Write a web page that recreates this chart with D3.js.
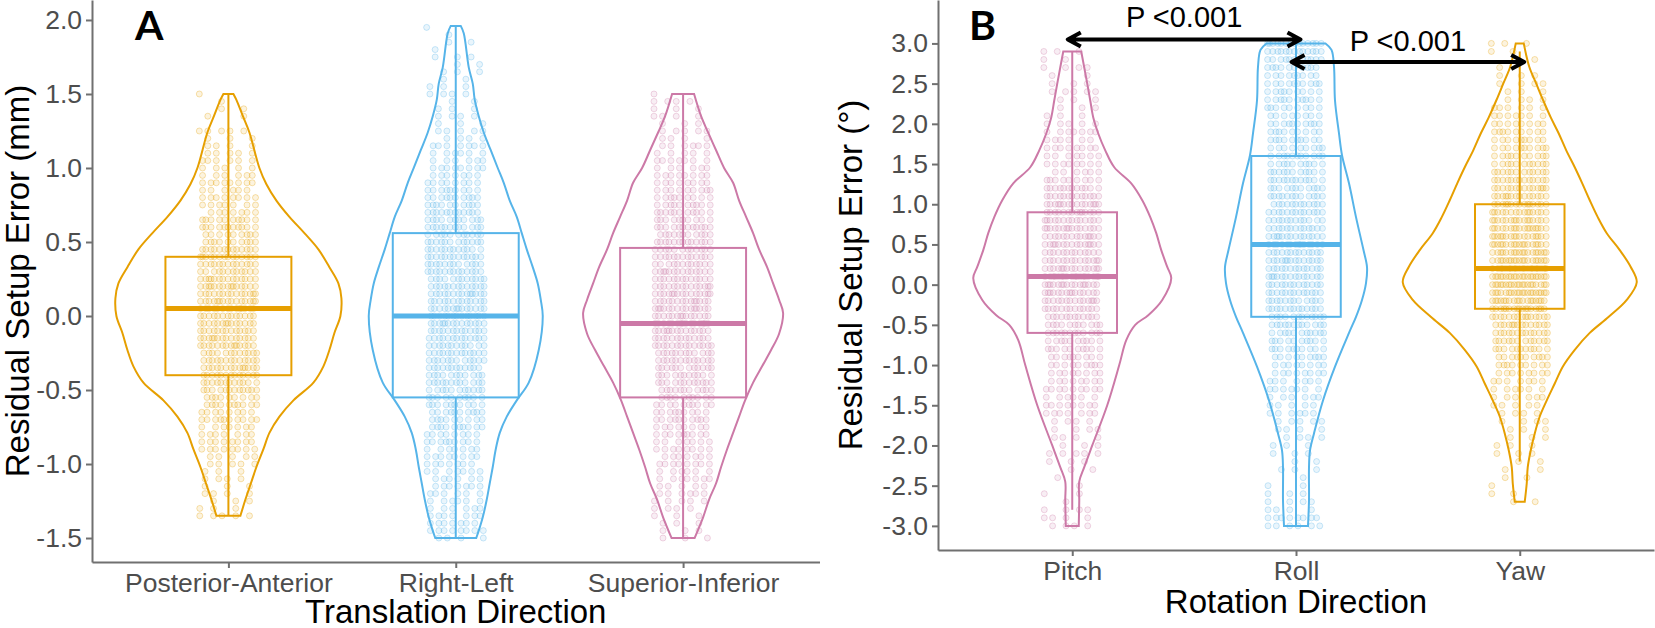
<html>
<head>
<meta charset="utf-8" />
<script src="https://cdnjs.cloudflare.com/ajax/libs/d3/7.6.1/d3.min.js"></script>
<style>
  body { margin: 0; background: #fff; }
  svg { display: block; }
</style>
</head>
<body>
<svg width="1655" height="628"></svg>
<script>
// ---- data ----
const translationDirs = ["Posterior-Anterior", "Right-Left", "Superior-Inferior"];
const rotationDirs = ["Pitch", "Roll", "Yaw"];
const translationTicks = [-1.5, -1.0, -0.5, 0.0, 0.5, 1.0, 1.5, 2.0];
const rotationTicks = [-3.0, -2.5, -2.0, -1.5, -1.0, -0.5, 0.0, 0.5, 1.0, 1.5, 2.0, 2.5, 3.0];
const translationColors = ["#E69F00", "#56B4E9", "#CC79A7"];
const rotationColors = ["#CC79A7", "#56B4E9", "#E69F00"];

// box statistics
const translationQ1 = [-0.4, -0.55, -0.55];
const translationMedian = [0.05, 0.0, -0.05];
const translationQ3 = [0.4, 0.56, 0.46];
const translationLo = [-1.35, -1.5, -1.5];
const translationHi = [1.5, 1.96, 1.5];
const rotationQ1 = [-0.6, -0.4, -0.3];
const rotationMedian = [0.1, 0.5, 0.2];
const rotationQ3 = [0.9, 1.6, 1.0];
const rotationLo = [-2.8, -3.0, -2.2];
const rotationHi = [2.9, 3.0, 2.9];

// violin outlines: [value, relative density]
const paViolin = [[1.5,.05],[1.46,.08],[1.35,.145],[1.24,.21],[1.0,.31],[0.89,.38],[0.78,.48],[0.67,.61],[0.56,.76],[0.45,.90],[0.33,1.01],[0.22,1.10],[0.12,1.13],[0.0,1.12],[-0.115,1.06],[-0.23,1.01],[-0.34,.95],[-0.45,.85],[-0.57,.65],[-0.68,.51],[-0.79,.41],[-0.9,.35],[-1.02,.28],[-1.13,.225],[-1.24,.17],[-1.35,.12]];
const rlViolin = [[1.96,.05],[1.91,.08],[1.68,.13],[1.57,.17],[1.46,.19],[1.35,.23],[1.24,.28],[1.12,.35],[1.0,.42],[0.9,.48],[0.78,.54],[0.67,.61],[0.56,.66],[0.45,.71],[0.33,.77],[0.22,.82],[0.11,.85],[0.0,.87],[-0.23,.83],[-0.45,.73],[-0.57,.61],[-0.68,.51],[-0.79,.44],[-0.9,.40],[-1.02,.37],[-1.13,.34],[-1.24,.31],[-1.36,.27],[-1.45,.23],[-1.5,.205]];
const siViolin = [[1.5,.11],[1.35,.18],[1.24,.25],[1.12,.33],[1.0,.41],[0.9,.50],[0.78,.56],[0.67,.63],[0.56,.70],[0.45,.76],[0.33,.84],[0.22,.90],[0.11,.96],[0.02,1.0],[-0.12,.96],[-0.23,.88],[-0.34,.79],[-0.45,.70],[-0.57,.62],[-0.68,.56],[-0.79,.50],[-0.9,.44],[-1.02,.38],[-1.13,.33],[-1.24,.26],[-1.36,.20],[-1.5,.115]];
const pitchViolin = [[2.9,.09],[2.7,.12],[2.5,.15],[2.29,.18],[2.08,.21],[1.88,.26],[1.67,.33],[1.46,.42],[1.26,.59],[1.05,.70],[0.84,.78],[0.64,.84],[0.43,.89],[0.22,.95],[0.08,.99],[-0.19,.90],[-0.38,.76],[-0.5,.63],[-0.69,.54],[-1.0,.47],[-1.5,.35],[-2.0,.20],[-2.27,.12],[-2.45,.07],[-2.68,.07],[-3.0,.065]];
const rollViolin = [[3.0,.295],[2.92,.355],[2.71,.38],[2.29,.39],[1.88,.43],[1.61,.46],[1.26,.53],[0.84,.60],[0.43,.675],[0.22,.71],[0.02,.70],[-0.19,.66],[-0.4,.60],[-0.6,.53],[-1.02,.39],[-1.44,.27],[-1.85,.18],[-2.06,.14],[-2.27,.13],[-2.68,.13],[-3.0,.12]];
const yawViolin = [[3.0,.04],[2.71,.095],[2.5,.165],[2.29,.235],[2.08,.31],[1.88,.39],[1.67,.465],[1.46,.55],[1.26,.625],[1.05,.70],[0.84,.78],[0.64,.87],[0.43,1.0],[0.22,1.11],[0.03,1.17],[-0.19,1.07],[-0.4,.89],[-0.6,.70],[-0.81,.55],[-1.02,.43],[-1.23,.35],[-1.44,.27],[-1.64,.20],[-1.85,.15],[-2.06,.11],[-2.27,.08],[-2.47,.07],[-2.7,.05]];

// observations: [value, number of patients at that value]
const paPoints = [[1.5,1],[1.45,1],[1.4,2],[1.35,2],[1.25,5],[1.2,3],[1.15,4],[1.1,5],[1.05,6],[1.0,5],[0.95,6],[0.9,8],[0.85,6],[0.8,8],[0.75,7],[0.7,7],[0.65,10],[0.6,11],[0.55,9],[0.5,10],[0.45,13],[0.4,14],[0.35,13],[0.3,12],[0.25,14],[0.2,15],[0.15,14],[0.1,15],[0.05,14],[0.0,13],[-0.05,14],[-0.1,13],[-0.15,14],[-0.2,14],[-0.25,12],[-0.3,13],[-0.35,14],[-0.4,13],[-0.45,12],[-0.5,12],[-0.55,9],[-0.6,10],[-0.65,8],[-0.7,10],[-0.75,7],[-0.8,7],[-0.85,8],[-0.9,8],[-0.95,5],[-1.0,5],[-1.05,3],[-1.1,4],[-1.15,3],[-1.2,4],[-1.25,3],[-1.3,3],[-1.35,5]];
const rlPoints = [[1.95,1],[1.9,1],[1.85,2],[1.8,1],[1.75,3],[1.7,2],[1.65,3],[1.6,2],[1.55,3],[1.5,4],[1.45,2],[1.4,3],[1.35,4],[1.3,3],[1.25,5],[1.2,4],[1.15,7],[1.1,6],[1.05,6],[1.0,8],[0.95,7],[0.9,8],[0.85,9],[0.8,10],[0.75,10],[0.7,12],[0.65,11],[0.6,12],[0.55,11],[0.5,12],[0.45,12],[0.4,13],[0.35,12],[0.3,13],[0.25,12],[0.2,13],[0.15,14],[0.1,13],[0.05,14],[0.0,13],[-0.05,14],[-0.1,13],[-0.15,13],[-0.2,12],[-0.25,13],[-0.3,12],[-0.35,12],[-0.4,11],[-0.45,12],[-0.5,11],[-0.55,10],[-0.6,10],[-0.65,10],[-0.7,9],[-0.75,10],[-0.8,8],[-0.85,9],[-0.9,7],[-0.95,8],[-1.0,7],[-1.05,7],[-1.1,6],[-1.15,7],[-1.2,6],[-1.25,6],[-1.3,6],[-1.35,7],[-1.4,7],[-1.45,8],[-1.5,4]];
const siPoints = [[1.5,1],[1.45,4],[1.4,3],[1.35,4],[1.3,3],[1.25,5],[1.2,4],[1.15,6],[1.1,5],[1.05,7],[1.0,6],[0.95,8],[0.9,8],[0.85,9],[0.8,9],[0.75,10],[0.7,11],[0.65,10],[0.6,12],[0.55,11],[0.5,13],[0.45,12],[0.4,13],[0.35,12],[0.3,14],[0.25,13],[0.2,14],[0.15,15],[0.1,14],[0.05,15],[0.0,14],[-0.05,15],[-0.1,14],[-0.15,13],[-0.2,14],[-0.25,12],[-0.3,13],[-0.35,12],[-0.4,11],[-0.45,12],[-0.5,11],[-0.55,10],[-0.6,10],[-0.65,9],[-0.7,10],[-0.75,8],[-0.8,9],[-0.85,7],[-0.9,8],[-0.95,7],[-1.0,8],[-1.05,6],[-1.1,7],[-1.15,5],[-1.2,6],[-1.25,5],[-1.3,4],[-1.35,3],[-1.4,3],[-1.45,3],[-1.5,3]];
const pitchPoints = [[2.9,3],[2.8,2],[2.7,4],[2.6,2],[2.5,3],[2.4,5],[2.3,3],[2.2,3],[2.1,3],[2.0,5],[1.9,7],[1.8,6],[1.7,8],[1.6,7],[1.5,8],[1.4,6],[1.3,9],[1.2,12],[1.1,13],[1.0,15],[0.9,14],[0.8,14],[0.7,15],[0.6,14],[0.5,15],[0.4,13],[0.3,14],[0.2,15],[0.1,18],[0.0,16],[-0.1,15],[-0.2,14],[-0.3,13],[-0.4,12],[-0.5,11],[-0.6,12],[-0.7,10],[-0.8,10],[-0.9,9],[-1.0,9],[-1.1,8],[-1.2,8],[-1.3,9],[-1.4,6],[-1.5,8],[-1.6,7],[-1.7,4],[-1.8,4],[-1.9,4],[-2.0,3],[-2.1,5],[-2.2,3],[-2.3,2],[-2.4,1],[-2.5,1],[-2.6,2],[-2.7,1],[-2.8,4],[-2.9,4],[-3.0,4]];
const rollPoints = [[3.0,14],[2.9,13],[2.8,11],[2.7,10],[2.6,9],[2.5,10],[2.4,9],[2.3,10],[2.2,9],[2.1,8],[2.0,10],[1.9,9],[1.8,10],[1.7,9],[1.6,11],[1.5,10],[1.4,11],[1.3,12],[1.2,11],[1.1,12],[1.0,12],[0.9,13],[0.8,12],[0.7,13],[0.6,14],[0.5,14],[0.4,13],[0.3,14],[0.2,13],[0.1,14],[0.0,13],[-0.1,13],[-0.2,12],[-0.3,13],[-0.4,12],[-0.5,12],[-0.6,11],[-0.7,10],[-0.8,10],[-0.9,9],[-1.0,8],[-1.1,8],[-1.2,7],[-1.3,7],[-1.4,6],[-1.5,5],[-1.6,6],[-1.7,5],[-1.8,4],[-1.9,4],[-2.0,3],[-2.1,3],[-2.2,2],[-2.3,3],[-2.4,1],[-2.5,2],[-2.6,3],[-2.7,4],[-2.8,4],[-2.9,8],[-3.0,6]];
const yawPoints = [[3.0,3],[2.9,2],[2.8,1],[2.7,1],[2.6,3],[2.5,4],[2.4,3],[2.3,4],[2.2,6],[2.1,7],[2.0,8],[1.9,9],[1.8,9],[1.7,10],[1.6,10],[1.5,11],[1.4,12],[1.3,13],[1.2,14],[1.1,14],[1.0,15],[0.9,15],[0.8,16],[0.7,17],[0.6,17],[0.5,18],[0.4,18],[0.3,19],[0.2,20],[0.1,21],[0.0,20],[-0.1,20],[-0.2,18],[-0.3,17],[-0.4,15],[-0.5,14],[-0.6,13],[-0.7,12],[-0.8,11],[-0.9,10],[-1.0,9],[-1.1,8],[-1.2,7],[-1.3,6],[-1.4,6],[-1.5,5],[-1.6,4],[-1.7,4],[-1.8,3],[-1.9,3],[-2.0,3],[-2.1,3],[-2.2,2],[-2.3,2],[-2.4,2],[-2.5,1],[-2.6,2],[-2.7,2]];

// significance brackets: [from, to, arrow value, label value]
const rotationPairs = [["Pitch", "Roll", 3.05, 3.2], ["Roll", "Yaw", 2.77, 2.9]];
const pLabel = "P <0.001";

// ---- drawing ----
const svg = d3.select("svg");
const font = "'Liberation Sans', Arial, sans-serif";
const axisGray = "#707070";
const violinWidth = d3.scaleLinear().domain([0, 1]).range([0, 100]);

function panel(cfg) {
  const g = svg.append("g");
  const step = cfg.x.step();

  cfg.categories.forEach((cat, i) => {
    const cx = cfg.x(cat);
    const col = cfg.colors[i];

    const pts = [];
    cfg.points[i].forEach(([v, n], r) => {
      for (let k = 0; k < n; k++) {
        const f = ((k * 0.618034 + r * 0.381966) % 1) * 2 - 1;
        pts.push({ v: v, dx: f * cfg.jitter * step });
      }
    });
    g.append("g").selectAll("circle").data(pts).join("circle")
      .attr("cx", d => cx + d.dx)
      .attr("cy", d => cfg.y(d.v))
      .attr("r", 3)
      .attr("fill", col).attr("fill-opacity", 0.13)
      .attr("stroke", col).attr("stroke-opacity", 0.3).attr("stroke-width", 1);

    const area = d3.area().curve(d3.curveCatmullRom)
      .y(d => cfg.y(d[0]))
      .x0(d => cx - violinWidth(d[1]))
      .x1(d => cx + violinWidth(d[1]));
    g.append("path").attr("d", area(cfg.violins[i]))
      .attr("fill", "none").attr("stroke", col).attr("stroke-width", 2);

    const bw = cfg.boxHalf * step;
    g.append("line").attr("x1", cx).attr("x2", cx)
      .attr("y1", cfg.y(cfg.hi[i])).attr("y2", cfg.y(cfg.q3[i]))
      .attr("stroke", col).attr("stroke-width", 2);
    g.append("line").attr("x1", cx).attr("x2", cx)
      .attr("y1", cfg.y(cfg.q1[i])).attr("y2", cfg.y(cfg.lo[i]))
      .attr("stroke", col).attr("stroke-width", 2);
    g.append("rect").attr("x", cx - bw).attr("width", 2 * bw)
      .attr("y", cfg.y(cfg.q3[i])).attr("height", cfg.y(cfg.q1[i]) - cfg.y(cfg.q3[i]))
      .attr("fill", "none").attr("stroke", col).attr("stroke-width", 2);
    g.append("line").attr("x1", cx - bw).attr("x2", cx + bw)
      .attr("y1", cfg.y(cfg.median[i])).attr("y2", cfg.y(cfg.median[i]))
      .attr("stroke", col).attr("stroke-width", 5);
  });

  const [x0, x1] = cfg.x.range();
  const [yb] = cfg.y.range();

  const ax = g.append("g").attr("transform", `translate(${x0},0)`)
    .call(d3.axisLeft(cfg.y).tickValues(cfg.ticks).tickFormat(d => d.toFixed(1))
      .tickSize(6).tickPadding(4).tickSizeOuter(0));
  const bx = g.append("g").attr("transform", `translate(0,${yb})`)
    .call(d3.axisBottom(cfg.x).tickSize(6).tickPadding(5).tickSizeOuter(0));
  [ax, bx].forEach(a => {
    a.selectAll("path, line").attr("stroke", axisGray).attr("stroke-width", 2);
    a.selectAll("text").attr("fill", "#4d4d4d").attr("font-size", 26.5).attr("font-family", font);
  });

  g.append("text").attr("x", (x0 + x1) / 2).attr("y", cfg.xTitleY)
    .attr("text-anchor", "middle").attr("font-family", font).attr("font-size", 33)
    .text(cfg.xTitle);
  g.append("text")
    .attr("transform", `translate(${cfg.yTitleX},${yb / 2}) rotate(-90)`)
    .attr("text-anchor", "middle").attr("font-family", font).attr("font-size", 33)
    .text(cfg.yTitle);
  g.append("text").attr("x", cfg.letterX).attr("y", 40)
    .attr("font-family", "Lato, 'DejaVu Sans Condensed', sans-serif")
    .attr("font-weight", "bold").attr("font-size", 41)
    .text(cfg.letter);
  return g;
}

const xA = d3.scalePoint().domain(translationDirs).range([92, 819.5]).padding(0.6);
const yA = d3.scaleLinear().domain([-1.662, 2.135]).range([562, 0]);
panel({
  categories: translationDirs, x: xA, y: yA, ticks: translationTicks,
  colors: translationColors,
  violins: [paViolin, rlViolin, siViolin],
  points: [paPoints, rlPoints, siPoints],
  q1: translationQ1, median: translationMedian, q3: translationQ3,
  lo: translationLo, hi: translationHi,
  boxHalf: 0.277, jitter: 0.128,
  xTitle: "Translation Direction", xTitleY: 623,
  yTitle: "Residual Setup Error (mm)", yTitleX: 29,
  letter: "A", letterX: 135
});

const xB = d3.scalePoint().domain(rotationDirs).range([938, 1654]).padding(0.6);
const yB = d3.scaleLinear().domain([-3.30, 3.54]).range([550, 0]);
const gB = panel({
  categories: rotationDirs, x: xB, y: yB, ticks: rotationTicks,
  colors: rotationColors,
  violins: [pitchViolin, rollViolin, yawViolin],
  points: [pitchPoints, rollPoints, yawPoints],
  q1: rotationQ1, median: rotationMedian, q3: rotationQ3,
  lo: rotationLo, hi: rotationHi,
  boxHalf: 0.2, jitter: 0.127,
  xTitle: "Rotation Direction", xTitleY: 613,
  yTitle: "Residual Setup Error (°)", yTitleX: 862,
  letter: "B", letterX: 969
});

// double-headed arrows with p-values
const stepB = xB.step();
rotationPairs.forEach(([a, b, v, tv]) => {
  const xa = xB(a) - 0.02 * stepB, xb = xB(b) + 0.02 * stepB, yy = yB(v);
  const hl = 13, hh = 7;
  gB.append("path")
    .attr("d", `M${xa},${yy}H${xb}M${xa + hl},${yy - hh}L${xa},${yy}L${xa + hl},${yy + hh}M${xb - hl},${yy - hh}L${xb},${yy}L${xb - hl},${yy + hh}`)
    .attr("fill", "none").attr("stroke", "#000").attr("stroke-width", 4)
    .attr("stroke-linejoin", "round");
  gB.append("text").attr("x", (xB(a) + xB(b)) / 2).attr("y", yB(tv))
    .attr("text-anchor", "middle").attr("font-family", font).attr("font-size", 29)
    .text(pLabel);
});
</script>
</body>
</html>
